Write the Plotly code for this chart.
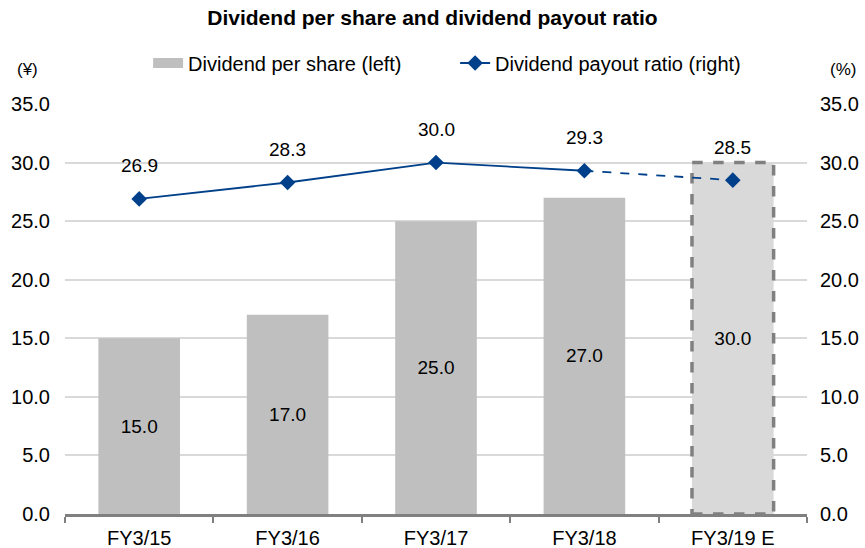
import plotly.graph_objects as go

categories = ["FY3/15", "FY3/16", "FY3/17", "FY3/18", "FY3/19 E"]
dps = [15.0, 17.0, 25.0, 27.0, 30.0]
payout = [26.9, 28.3, 30.0, 29.3, 28.5]
tick_vals = [0, 5, 10, 15, 20, 25, 30, 35]

FONT = "Liberation Sans, Arial, sans-serif"
BAR_W = 0.55
BAR_C = "#BFBFBF"
EST_C = "#D9D9D9"
LINE_C = "#00408A"
bar_colors = [BAR_C] * (len(dps) - 1) + ["rgba(0,0,0,0)"]

fig = go.Figure()
fig.add_trace(go.Bar(
    x=categories, y=dps, name="Dividend per share (left)", showlegend=False,
    marker=dict(color=bar_colors, line=dict(width=0)),
    width=BAR_W,
    text=[f"{v:.1f}" for v in dps], textposition="inside",
    insidetextanchor="middle", textangle=0,
    textfont=dict(size=19, color="#000000", family=FONT),
    yaxis="y", hoverinfo="skip",
))
# legend-only entry for the bars (wide swatch)
fig.add_trace(go.Scatter(
    x=[None], y=[None], mode="lines", name="Dividend per share (left)",
    line=dict(color=BAR_C, width=10), yaxis="y",
))
# solid part of the payout ratio line
fig.add_trace(go.Scatter(
    x=categories[:-1], y=payout[:-1], name="Dividend payout ratio (right)",
    mode="lines+markers",
    line=dict(color=LINE_C, width=1.8),
    marker=dict(symbol="diamond", size=12, color=LINE_C),
    yaxis="y2",
))
# dashed forecast segment
fig.add_trace(go.Scatter(
    x=categories[-2:], y=payout[-2:], showlegend=False, mode="lines",
    line=dict(color=LINE_C, width=1.8, dash="dash"), yaxis="y2",
))
# forecast marker
fig.add_trace(go.Scatter(
    x=categories[-1:], y=payout[-1:], showlegend=False, mode="markers",
    marker=dict(symbol="diamond", size=12, color=LINE_C), yaxis="y2",
))

# forecast bar: light fill with dashed border, drawn beneath the traces
fig.add_shape(
    type="rect", xref="x", yref="y",
    x0=categories[-1], x1=categories[-1],
    x0shift=-BAR_W / 2, x1shift=BAR_W / 2,
    y0=0, y1=dps[-1],
    line=dict(color="#808080", width=3.5, dash="dash"),
    fillcolor=EST_C, layer="between",
)

annotations = [
    dict(x=c, y=v, xref="x", yref="y2", text=f"{v:.1f}", showarrow=False,
         yshift=33, yanchor="middle", font=dict(size=19, family=FONT, color="#000"))
    for c, v in zip(categories, payout)
]
annotations += [
    dict(text="(¥)", xref="paper", yref="paper", x=-0.05, y=1.083,
         xanchor="center", yanchor="middle", showarrow=False, font=dict(size=17)),
    dict(text="(%)", xref="paper", yref="paper", x=1.049, y=1.083,
         xanchor="center", yanchor="middle", showarrow=False, font=dict(size=17)),
]

fig.update_layout(
    width=865, height=548,
    margin=dict(l=65, r=58, t=104, b=34),
    paper_bgcolor="white", plot_bgcolor="white",
    font=dict(family=FONT, size=20, color="#000000"),
    title=dict(text="<b>Dividend per share and dividend payout ratio</b>",
               x=0.5, xanchor="center", y=0.967, yanchor="middle",
               font=dict(size=21, family=FONT)),
    showlegend=True,
    legend=dict(orientation="h", x=0.112, xanchor="left", y=1.1, yanchor="middle",
                font=dict(size=20, family=FONT), entrywidth=262,
                entrywidthmode="pixels",
                bgcolor="rgba(0,0,0,0)", traceorder="normal"),
    bargap=0.45,
    xaxis=dict(type="category", showline=True, linecolor="#808080", linewidth=3,
               ticks="outside", tickson="boundaries", ticklen=6, tickcolor="#808080",
               tickwidth=2, showgrid=False, tickfont=dict(size=20), fixedrange=True,
               automargin=False, ticklabelstandoff=4),
    yaxis=dict(range=[0, 35], tickvals=tick_vals, tickformat=".1f",
               showgrid=True, gridcolor="#D9D9D9", gridwidth=1.5, zeroline=False,
               showline=False, ticks="", tickfont=dict(size=20), automargin=False,
               ticklabelstandoff=14),
    yaxis2=dict(range=[0, 35], tickvals=tick_vals, tickformat=".1f",
                overlaying="y", side="right", showgrid=False, zeroline=False,
                showline=False, ticks="", tickfont=dict(size=20), automargin=False,
                ticklabelstandoff=12),
    annotations=annotations,
)

fig.write_html("out.html", config={"displayModeBar": False},
               post_script="document.body.style.margin='0';")
